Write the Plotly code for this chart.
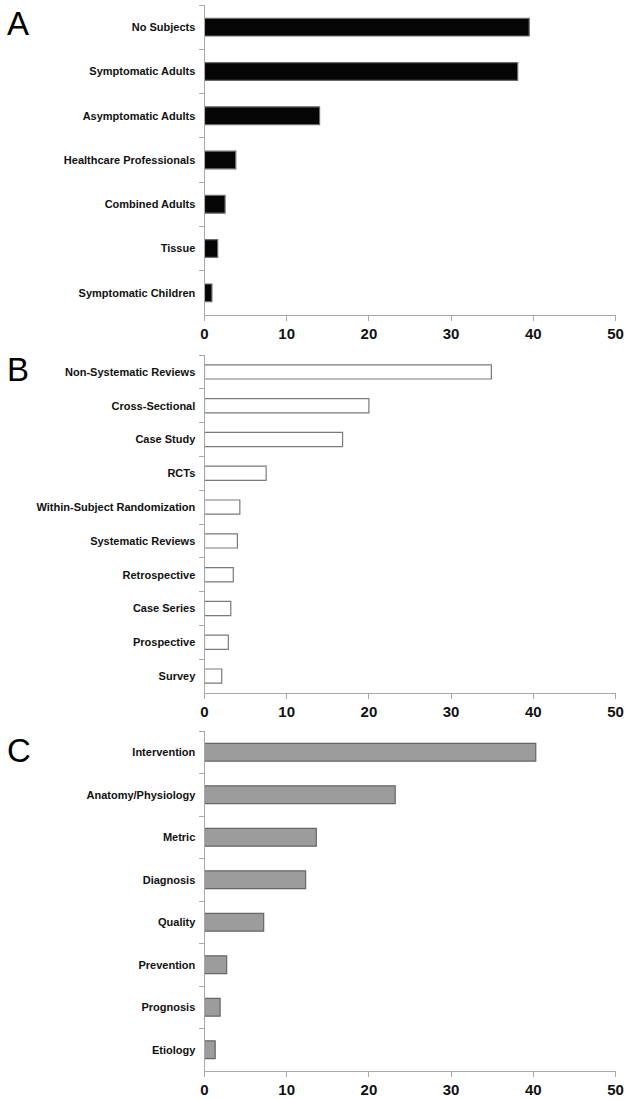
import plotly.graph_objects as go

# Panel A: subjects
cats_a = ["No Subjects", "Symptomatic Adults", "Asymptomatic Adults", "Healthcare Professionals",
          "Combined Adults", "Tissue", "Symptomatic Children"]
vals_a = [39.5, 38.1, 14.0, 3.8, 2.5, 1.6, 0.9]

# Panel B: study design
cats_b = ["Non-Systematic Reviews", "Cross-Sectional", "Case Study", "RCTs",
          "Within-Subject Randomization", "Systematic Reviews", "Retrospective",
          "Case Series", "Prospective", "Survey"]
vals_b = [34.9, 20.0, 16.8, 7.5, 4.3, 4.0, 3.5, 3.2, 2.9, 2.1]

# Panel C: focus
cats_c = ["Intervention", "Anatomy/Physiology", "Metric", "Diagnosis", "Quality",
          "Prevention", "Prognosis", "Etiology"]
vals_c = [40.3, 23.2, 13.6, 12.3, 7.2, 2.7, 1.9, 1.3]

x_ticks = [0, 10, 20, 30, 40, 50]
panel_letters = ["A", "B", "C"]

W, H = 631, 1099
x_dom = [204.5 / W, 615.5 / W]
# pixel top/bottom of each panel's plotting area
panels_px = [(5, 315), (355, 693), (731, 1071)]
styles = [
    dict(fill="#050505", line="#6a6a6a", width=0.40),
    dict(fill="#ffffff", line="#7a7a7a", width=0.42),
    dict(fill="#9c9c9c", line="#666666", width=0.42),
]
data = [(cats_a, vals_a), (cats_b, vals_b), (cats_c, vals_c)]

fig = go.Figure()
font_family = "Liberation Sans, Arial, sans-serif"

for i, ((cats, vals), st, (top, bot)) in enumerate(zip(data, styles, panels_px)):
    n = i + 1
    xa = "x" if n == 1 else f"x{n}"
    ya = "y" if n == 1 else f"y{n}"
    fig.add_trace(go.Bar(
        x=vals, y=cats, orientation="h",
        marker=dict(color=st["fill"], line=dict(color=st["line"], width=1.2)),
        width=st["width"], xaxis=xa, yaxis=ya, showlegend=False,
        hoverinfo="x+y",
    ))
    xkey = "xaxis" if n == 1 else f"xaxis{n}"
    ykey = "yaxis" if n == 1 else f"yaxis{n}"
    fig.update_layout(**{
        xkey: dict(
            domain=x_dom, anchor=ya, range=[0, 50], automargin=False,
            tickmode="array", tickvals=x_ticks, ticktext=[str(t) for t in x_ticks],
            showgrid=False, zeroline=False, showline=True, linecolor="#a8a8a8", linewidth=1,
            ticks="outside", ticklen=5, tickcolor="#a8a8a8",
            tickfont=dict(family=font_family, size=15, color="#111111", weight="bold"),
            fixedrange=True,
        ),
        ykey: dict(
            domain=[1 - bot / H, 1 - top / H], anchor=xa, automargin=False,
            type="category", categoryorder="array", categoryarray=cats,
            range=[len(cats) - 0.5, -0.5],
            showgrid=False, zeroline=False, showline=True, linecolor="#a8a8a8", linewidth=1,
            ticks="outside", ticklen=5, tickcolor="#a8a8a8", tickson="boundaries",
            ticklabelstandoff=6,
            tickfont=dict(family=font_family, size=11, color="#111111", weight="bold"),
            fixedrange=True,
        ),
    })

letter_y = [23, 370, 750]
for letter, yy in zip(panel_letters, letter_y):
    fig.add_annotation(
        text=letter, xref="paper", yref="paper", x=5 / W, y=1 - yy / H,
        xanchor="left", yanchor="middle", showarrow=False,
        font=dict(family=font_family, size=33, color="#000000"),
    )

fig.update_layout(
    width=W, height=H, margin=dict(l=0, r=0, t=0, b=0, autoexpand=False),
    paper_bgcolor="white", plot_bgcolor="white", bargap=0.5,
)

fig.write_html(
    "out.html",
    config=dict(displayModeBar=False, responsive=False, staticPlot=True),
    post_script="document.body.style.margin='0';document.body.style.overflow='hidden';",
)
